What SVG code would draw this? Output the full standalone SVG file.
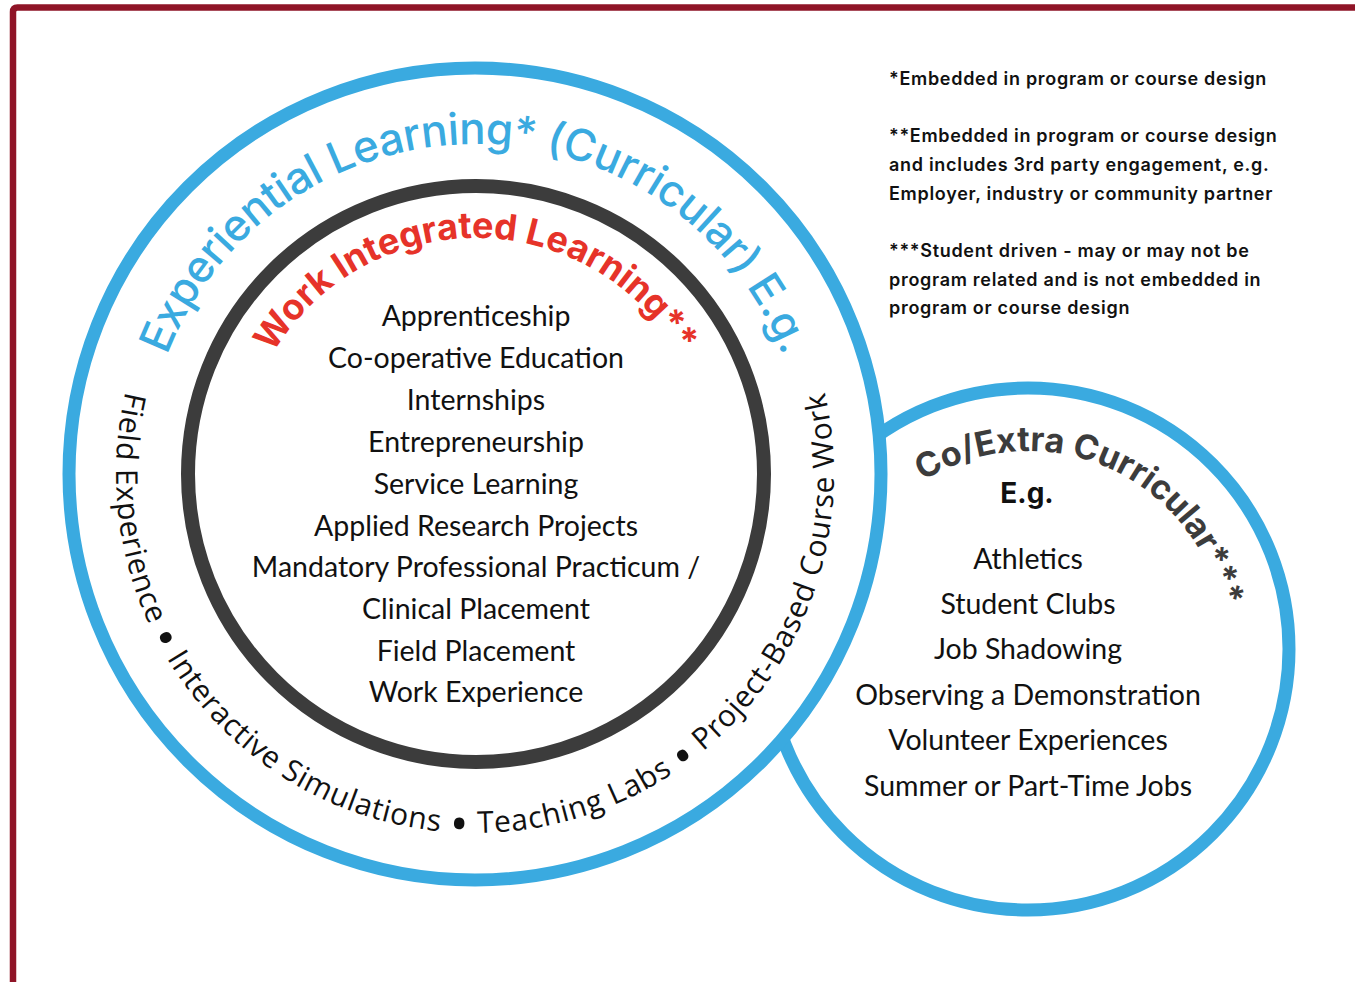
<svg xmlns="http://www.w3.org/2000/svg" width="1355" height="982" viewBox="0 0 1355 982">
<defs>
<style>
.ring{fill:#fff;stroke:#3aaae0;stroke-width:13}
.inner{fill:none;stroke:#3c3c3c;stroke-width:14}
.list{font-family:Lato,"Liberation Sans",sans-serif;font-size:28.5px;fill:#111;text-anchor:middle}
.note{font-family:Inter,"Liberation Sans",sans-serif;font-size:18px;font-weight:600;fill:#111;letter-spacing:0.7px}
.blue{font-family:Inter,"Liberation Sans",sans-serif;font-size:44px;font-weight:500;fill:#3aaae0;letter-spacing:-0.5px}
.red{font-family:Inter,"Liberation Sans",sans-serif;font-size:36px;font-weight:700;fill:#e63329}
.co{font-family:Inter,"Liberation Sans",sans-serif;font-size:34px;font-weight:700;fill:#3c3c3c}
.eg{font-family:Inter,"Liberation Sans",sans-serif;font-size:28px;font-weight:700;fill:#111;text-anchor:middle}
.around{font-family:"Open Sans","Liberation Sans",sans-serif;font-size:30px;fill:#111;letter-spacing:0.75px}
.dot{font-size:50px}
</style>
<path id="pBlue" d="M145,474 A330,330 0 0 1 805,474"/>
<path id="pRed" d="M240,474 A236,236 0 0 1 712,474"/>
<path id="pBottom" d="M221.15,220.15 A359,359 0 1 0 728.85,220.15"/>
<path id="pCo" d="M923.1,481.1 A198,198 0 0 1 1199.5,748"/>
</defs>
<rect width="1355" height="982" fill="#fff"/>
<path d="M13,982 L13,12 Q13,7.5 17.5,7.5 L1355,7.5" fill="none" stroke="#8f1427" stroke-width="6.5"/>

<g id="coextra">
<circle class="ring" cx="1028" cy="649" r="261"/>
</g>

<g id="experiential">
<circle class="ring" cx="475" cy="474" r="406"/>
<text class="blue"><textPath href="#pBlue" startOffset="50%" text-anchor="middle">Experiential Learning* (Curricular) E.g.</textPath></text>
<text class="around"><textPath href="#pBottom" startOffset="50%" text-anchor="middle">Field Experience <tspan class="dot" baseline-shift="-9">•</tspan> Interactive Simulations <tspan class="dot" baseline-shift="-9">•</tspan> Teaching Labs <tspan class="dot" baseline-shift="-9">•</tspan> Project-Based Course Work</textPath></text>
</g>

<g id="wil">
<circle class="inner" cx="476" cy="474" r="288"/>
<text class="red"><textPath href="#pRed" startOffset="50%" text-anchor="middle">Work Integrated Learning**</textPath></text>
<text class="list" x="476" y="326">Apprenticeship</text>
<text class="list" x="476" y="368">Co-operative Education</text>
<text class="list" x="476" y="410">Internships</text>
<text class="list" x="476" y="452">Entrepreneurship</text>
<text class="list" x="476" y="494">Service Learning</text>
<text class="list" x="476" y="536">Applied Research Projects</text>
<text class="list" x="476" y="577">Mandatory Professional Practicum /</text>
<text class="list" x="476" y="619">Clinical Placement</text>
<text class="list" x="476" y="661">Field Placement</text>
<text class="list" x="476" y="702">Work Experience</text>
</g>

<g id="coextra-text">
<text class="co"><textPath href="#pCo">Co/Extra Curricular***</textPath></text>
<text class="eg" x="1027" y="503">E.g.</text>
<text class="list" x="1028" y="569">Athletics</text>
<text class="list" x="1028" y="614">Student Clubs</text>
<text class="list" x="1028" y="659">Job Shadowing</text>
<text class="list" x="1028" y="705">Observing a Demonstration</text>
<text class="list" x="1028" y="750">Volunteer Experiences</text>
<text class="list" x="1028" y="796">Summer or Part-Time Jobs</text>
</g>

<g id="notes">
<text class="note" x="889" y="85">*Embedded in program or course design</text>
<text class="note" x="889" y="142">**Embedded in program or course design</text>
<text class="note" x="889" y="171">and includes 3rd party engagement, e.g.</text>
<text class="note" x="889" y="200">Employer, industry or community partner</text>
<text class="note" x="889" y="257">***Student driven - may or may not be</text>
<text class="note" x="889" y="286">program related and is not embedded in</text>
<text class="note" x="889" y="314">program or course design</text>
</g>
</svg>
